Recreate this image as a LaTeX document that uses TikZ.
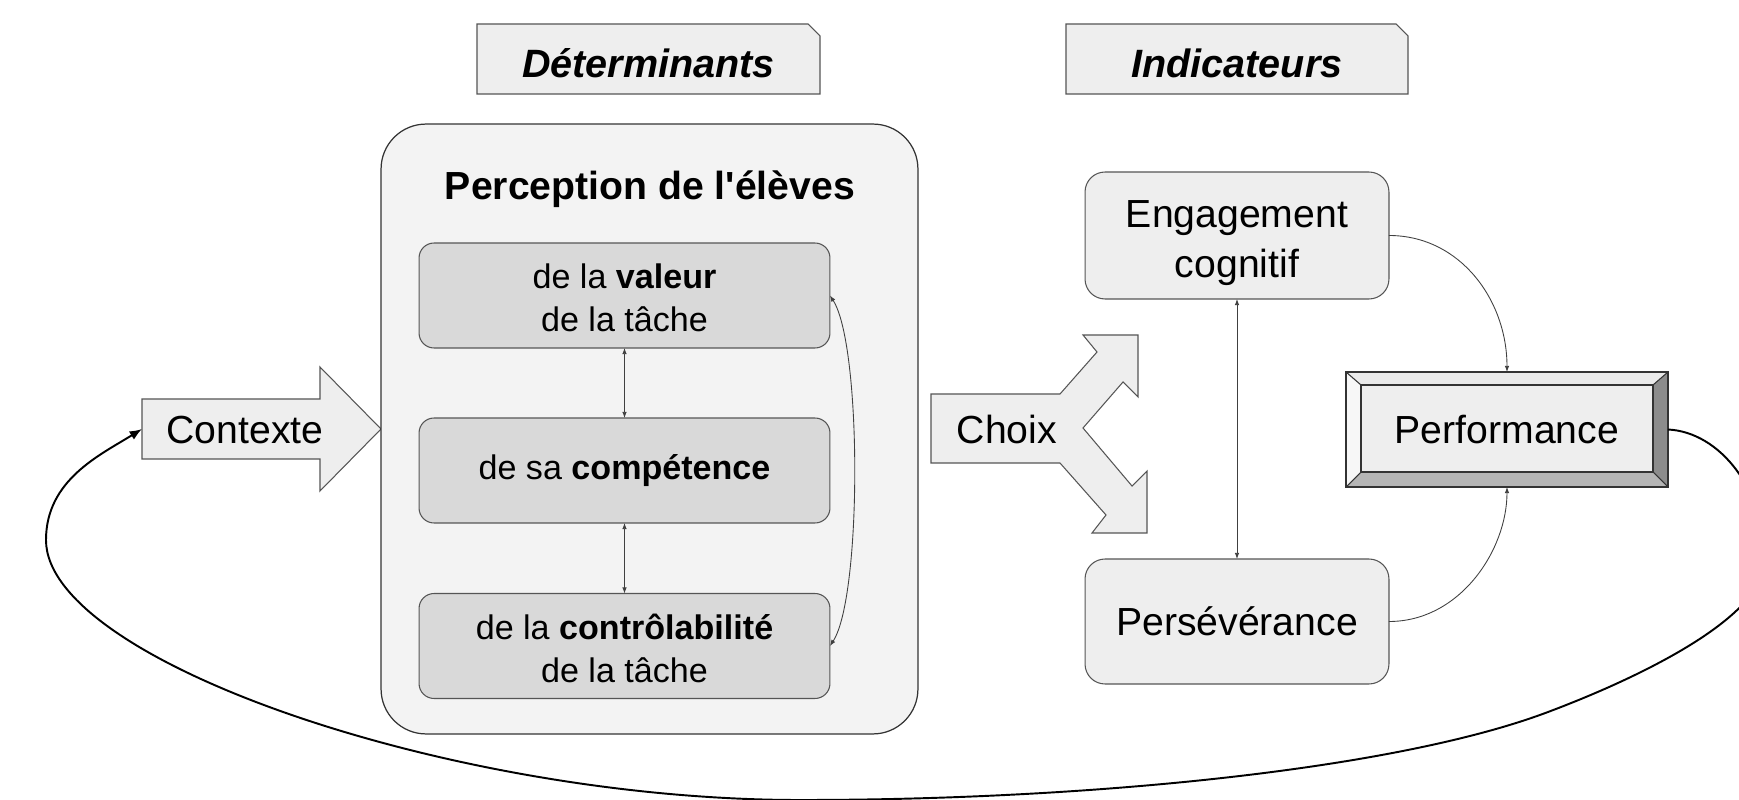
\documentclass[tikz,border=0pt]{standalone}
\usepackage{fontspec}
\setmainfont{Liberation Sans}
\newfontfamily\plainsans{Liberation Sans}[Ligatures=TeXOff]
\usetikzlibrary{arrows.meta}
\definecolor{boxfill}{HTML}{EEEEEE}
\definecolor{contfill}{HTML}{F3F3F3}
\definecolor{innerfill}{HTML}{D9D9D9}
\definecolor{edgecol}{HTML}{555555}
\definecolor{bevtop}{HTML}{EAEAEA}
\definecolor{bevleft}{HTML}{F7F7F7}
\definecolor{bevright}{HTML}{8C8C8C}
\definecolor{bevbot}{HTML}{B5B5B5}
\begin{document}
\begin{tikzpicture}[x=0.02cm,y=-0.02cm,
  every node/.style={inner sep=0pt, outer sep=0pt},
  bigtxt/.style={font=\fontsize{22.3}{28.4}\selectfont, align=center},
  smalltxt/.style={font=\fontsize{19.4}{24.5}\selectfont, align=center},
  headtxt/.style={font=\fontsize{22.5}{26}\selectfont\bfseries\itshape},
  shapeline/.style={draw=edgecol, line width=0.6pt, fill=boxfill},
  container/.style={draw=black!80, line width=0.7pt, fill=contfill, rounded corners=0.9cm},
  innerbox/.style={draw=edgecol, line width=0.6pt, fill=innerfill, rounded corners=0.3cm,
     minimum width=8.22cm, minimum height=2.1cm, smalltxt},
  indbox/.style={draw=edgecol, line width=0.6pt, fill=boxfill, rounded corners=0.4cm,
     minimum width=6.08cm, bigtxt},
  thinconn/.style={draw=black!75, line width=0.5pt},
  smalltip/.style={{Latex[length=3.5pt,width=2.6pt]}-{Latex[length=3.5pt,width=2.6pt]}},
  onetip/.style={-{Latex[length=3.5pt,width=2.6pt]}},
  feedback/.style={draw=black, line width=1.1pt, -{Latex[length=7pt,width=5.5pt]}},
  bevedge/.style={draw=black!80, line width=0.6pt}
]
\useasboundingbox (0,0) rectangle (1739,800);

% header boxes with cut corner
\path[shapeline] (477,24) -- (808,24) -- (820,36) -- (820,94) -- (477,94) -- cycle;
\node[headtxt] (det) at (648.5,63) {Déterminants};
\path[shapeline] (1066,24) -- (1396,24) -- (1408,36) -- (1408,94) -- (1066,94) -- cycle;
\node[headtxt] (ind) at (1237,63) {Indicateurs};

% Contexte arrow
\path[shapeline] (142,399) -- (320,399) -- (320,367) -- (381,429) -- (320,491) -- (320,459) -- (142,459) -- cycle;
\node[bigtxt] (contexte) at (245,430) {Contexte};
\coordinate (ctxin) at (142,429);

% container
\node[container, minimum width=10.74cm, minimum height=12.2cm] (percep) at (649.5,429) {};
\node[bigtxt, font=\fontsize{22.3}{28.4}\plainsans\selectfont\bfseries] (ptitle) at (650,189) {Perception de l'élèves};

\node[innerbox] (valeur) at (624.5,295.5) {};
\node[smalltxt] (valeurtxt) at (624.5,298) {de la \textbf{valeur}\\de la tâche};
\node[innerbox] (compet) at (624.5,470.5) {de sa \textbf{compétence}};
\node[innerbox] (control) at (624.5,646) {};
\node[smalltxt] (controltxt) at (624.5,648.5) {de la \textbf{contrôlabilité}\\de la tâche};

\draw[thinconn, smalltip] (valeur.south) -- (compet.north);
\draw[thinconn, smalltip] (compet.south) -- (control.north);
\draw[thinconn, smalltip] (valeur.east) .. controls (862,345) and (862,597) .. (control.east);

% Choix split arrow
\path[shapeline] (931,394) -- (1060,394) -- (1097,352) -- (1083,335) -- (1138,335) -- (1138,397)
  -- (1123,382) -- (1083,428) -- (1132,486) -- (1147,471) -- (1147,533) -- (1092,533)
  -- (1106,515) -- (1060,463) -- (931,463) -- cycle;
\node[bigtxt] (choix) at (1007,429) {Choix};

% indicators
\node[indbox, minimum height=2.54cm] (engag) at (1237,235.5) {};
\node[bigtxt] (engagtxt) at (1237,243.5) {Engagement\\cognitif};
\node[indbox, minimum height=2.5cm] (perse) at (1237,621.5) {Persévérance};
\draw[thinconn, smalltip] (engag.south) -- (perse.north);

% Performance bevel box
\fill[bevtop] (1346,372) -- (1668,372) -- (1653,385) -- (1361,385) -- cycle;
\fill[bevleft] (1346,372) -- (1361,385) -- (1361,472) -- (1346,487) -- cycle;
\fill[bevright] (1668,372) -- (1668,487) -- (1653,472) -- (1653,385) -- cycle;
\fill[bevbot] (1346,487) -- (1668,487) -- (1653,472) -- (1361,472) -- cycle;
\fill[boxfill] (1361,385) rectangle (1653,472);
\draw[bevedge] (1346,372) rectangle (1668,487);
\draw[bevedge] (1361,385) rectangle (1653,472);
\draw[bevedge] (1346,372) -- (1361,385) (1668,372) -- (1653,385) (1668,487) -- (1653,472) (1346,487) -- (1361,472);
\node[bigtxt, minimum width=6.44cm, minimum height=2.3cm] (perf) at (1507,429.5) {Performance};

\draw[thinconn, onetip] (engag.east) .. controls (1460,235.5) and (1507,300) .. (perf.north);
\draw[thinconn, onetip] (perse.east) .. controls (1460,621.5) and (1507,550) .. (perf.south);

% feedback loop
\draw[feedback] (perf.east) .. controls (1720,432) and (1765,490) .. (1765,560)
  .. controls (1765,620) and (1628,682) .. (1548,712)
  .. controls (1400,768) and (1100,800) .. (800,800)
  .. controls (450,800) and (46,660) .. (46,540)
  .. controls (46,480) and (100,455) .. (ctxin);
\end{tikzpicture}
\end{document}
